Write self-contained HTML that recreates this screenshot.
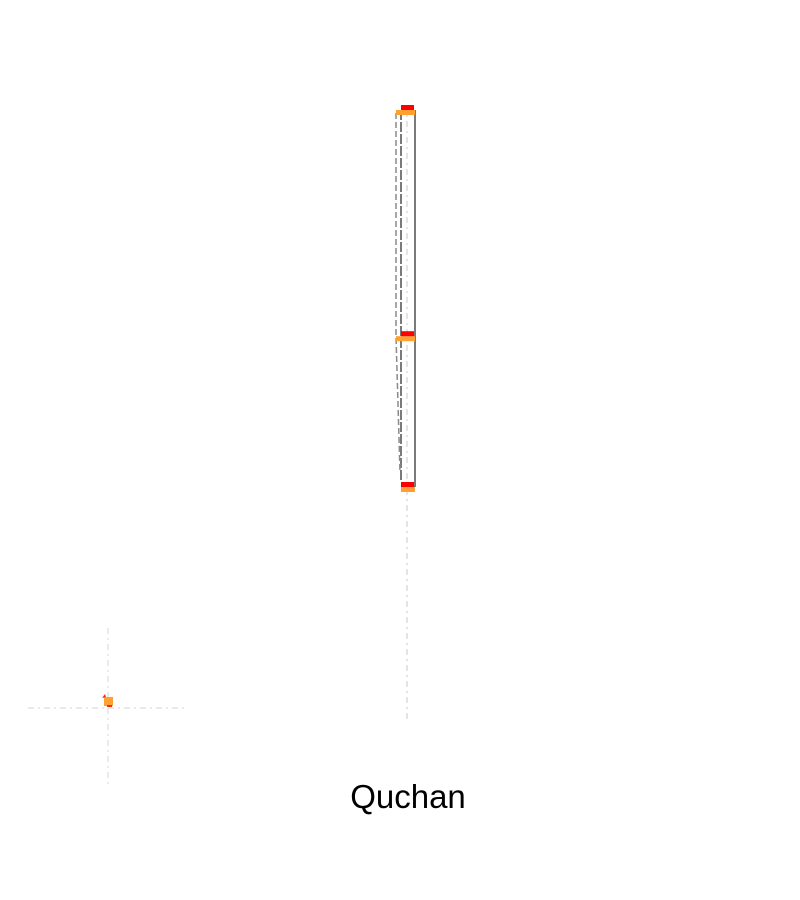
<!DOCTYPE html>
<html><head><meta charset="utf-8">
<style>
html,body{margin:0;padding:0;background:#fff;}
svg{display:block;}
text{font-family:"Liberation Sans","DejaVu Sans",sans-serif;}
</style></head>
<body>
<svg id="chart" width="800" height="900" viewBox="0 0 800 900" xmlns="http://www.w3.org/2000/svg">
<text x="408" y="808" font-size="33" text-anchor="middle" fill="#000">Quchan</text>
</svg>
<script>
const nodeCategories = ["top", "middle", "bottom"];
const nodeValues = [0, 0.6, 1];
const markerValues = [0, 0];

const NS = "http://www.w3.org/2000/svg";
const svg = document.getElementById("chart");
function y(v){ return 110 + v * (487 - 110); }
function mk(tag, attrs){ const e=document.createElementNS(NS,tag); for(const k in attrs) e.setAttribute(k, attrs[k]); svg.appendChild(e); return e; }

let ax = mk("line",{x1:407,y1:105,x2:407,y2:722,stroke:"#dcdcdc","stroke-width":1.5,"stroke-dasharray":"6,4,2,4"});



const y0 = y(nodeValues[0]), yl = y(nodeValues[nodeValues.length-1]);
let r = mk("line",{x1:415,y1:y0,x2:415,y2:yl,stroke:"#7a7a7a","stroke-width":2});


let l = mk("line",{x1:401,y1:y0,x2:401,y2:yl-5,stroke:"#7a7a7a","stroke-width":2,"stroke-dasharray":"10,2"});


let d = mk("path",{d:`M396 ${y0+3} L396 ${y(nodeValues[1])} L400 ${yl-15}`,fill:"none",stroke:"#8a8a8a","stroke-width":1.5,"stroke-dasharray":"6,3"});



nodeValues.forEach((v,i)=>{
  const yy = y(v);
  const x = i===nodeValues.length-1 ? 401 : 396;
  const o = mk("rect",{x:x,y:yy,width:415-x,height:5,fill:"#ffa033"});
  
  
  const rr = mk("rect",{x:401,y:yy-5,width:13,height:5,fill:"#ff0000"});
  
  
});

const mx = 108 + markerValues[0], my = 708 + markerValues[1];
let h = mk("line",{x1:28,y1:my,x2:188,y2:my,stroke:"#dcdcdc","stroke-width":1.2,"stroke-dasharray":"6,4,2,4"});


let vv = mk("line",{x1:mx,y1:628,x2:mx,y2:788,stroke:"#dcdcdc","stroke-width":1.2,"stroke-dasharray":"6,4,2,4"});


let m1 = mk("rect",{x:mx-4,y:my-11,width:9,height:9,fill:"#ffa033"});


let m2 = mk("path",{d:`M${mx-6} ${my-10} L${mx-3} ${my-14} L${mx-2} ${my-11} Z M${mx-1} ${my-3} L${mx+4} ${my-3} L${mx+4} ${my-1} L${mx-1} ${my-1} Z`,fill:"#ff2a00"});


</script>
</body></html>
